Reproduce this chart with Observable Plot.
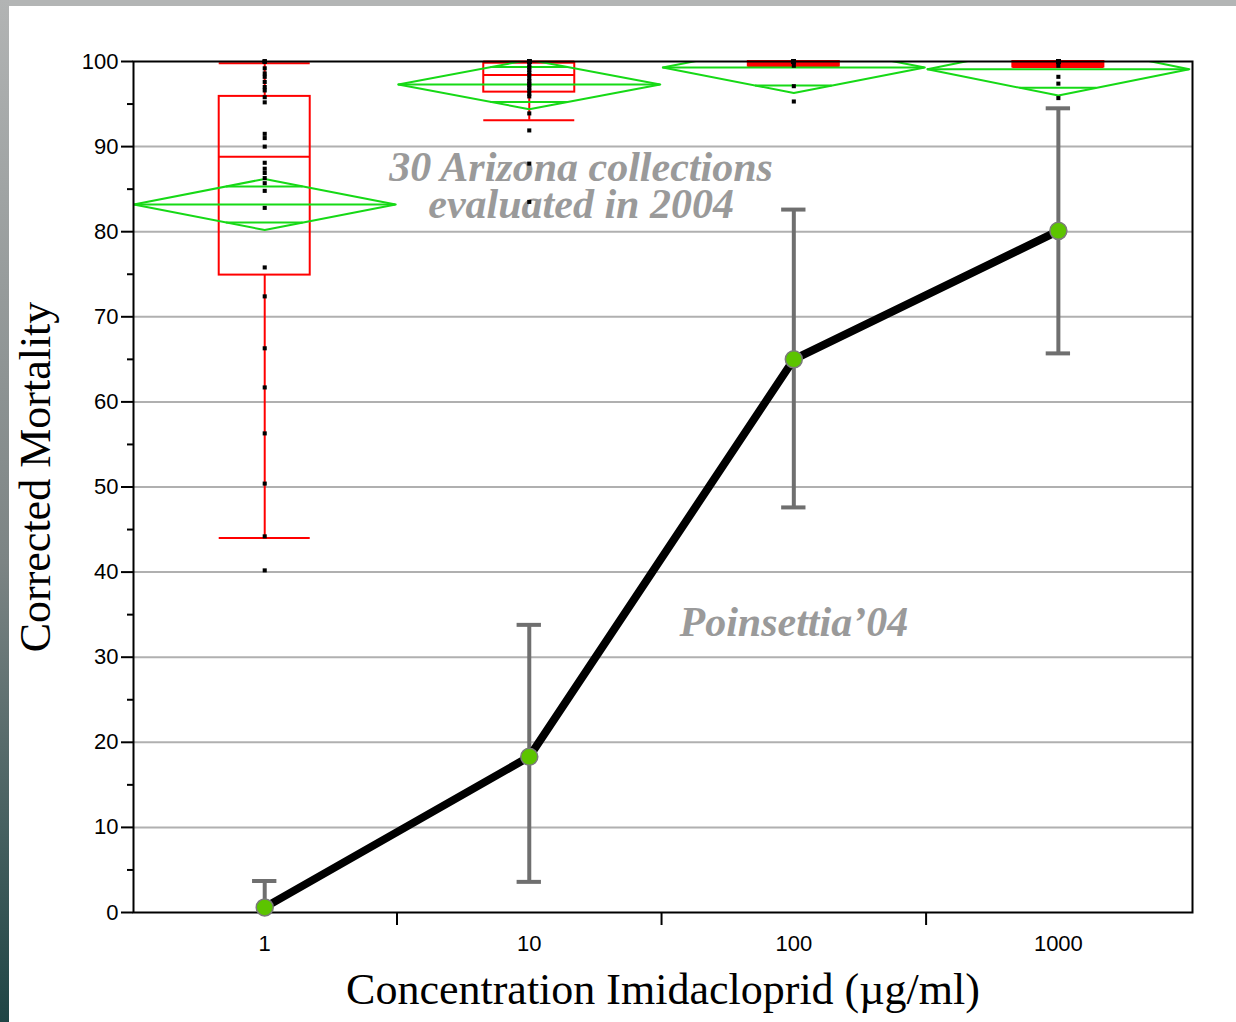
<!DOCTYPE html>
<html><head><meta charset="utf-8">
<script src="https://cdn.jsdelivr.net/npm/d3@7"></script>
<script src="https://cdn.jsdelivr.net/npm/@observablehq/plot@0.6"></script>
<style>
html,body{margin:0;padding:0;background:#fff;width:1236px;height:1022px;overflow:hidden}
#chart{position:absolute;left:0;top:0}
#topbar{position:absolute;left:0;top:0;width:1236px;height:6px;background:#b3b5b5;z-index:2}
#leftbar{position:absolute;left:0;top:0;width:9px;height:1022px;background:linear-gradient(#b2b4b4,#7c8484 55%,#1f4545);z-index:3}
</style></head><body>
<div id="topbar"></div><div id="leftbar"></div>
<div id="chart"></div>
<script>
// ---- data ----
const concentrations = [1, 10, 100, 1000];
const concentrationLabels = ["1", "10", "100", "1000"];

// Poinsettia '04 dose response (mean and error bars)
const meanMortality = [0.6, 18.3, 65.0, 80.1];
const errUpper = [3.7, 33.8, 82.6, 94.5];
const errLower = [-2.5, 3.6, 47.6, 65.7];

// 30 Arizona collections 2004: box plots
const boxQ1 = [74.9, 96.4, 99.45, 99.35];
const boxMedian = [88.8, 98.4, 100, 100];
const boxQ3 = [95.9, 99.8, 100, 100];
const whiskerLow = [44.0, 93.1, 99.45, 99.35];
const whiskerHigh = [99.8, 100, 100, 100];

// means diamonds
const diamondMean = [83.2, 97.3, 99.3, 99.1];
const diamondHalf = [3.0, 2.9, 3.0, 3.1];

// individual collections
const points1 = [100, 100, 100, 100, 99.2, 98.6, 98.2, 97.6, 97.0, 96.6, 95.8, 95.2, 91.5, 91.0, 90.0, 88.1, 87.4, 86.9, 86.3, 85.7, 84.8, 82.8, 75.8, 72.4, 66.3, 61.7, 56.3, 50.4, 44.2, 40.2];
const points2 = [100, 100, 100, 100, 100, 100, 100, 100, 100, 100, 100, 100, 99.6, 99.3, 99.0, 98.7, 98.4, 98.0, 97.7, 97.4, 97.2, 96.9, 96.6, 96.2, 95.9, 93.9, 91.9, 88.0, 83.5, 100];
const points3 = [100, 100, 100, 100, 100, 100, 100, 100, 100, 100, 100, 100, 100, 100, 100, 100, 100, 100, 100, 100, 100, 100, 100, 100, 100, 100, 100, 99.5, 97.1, 95.3];
const points4 = [100, 100, 100, 100, 100, 100, 100, 100, 100, 100, 100, 100, 100, 100, 100, 100, 100, 100, 100, 100, 100, 100, 100, 100, 100, 100, 99.5, 98.2, 97.4, 95.7];

const yTicks = [0, 10, 20, 30, 40, 50, 60, 70, 80, 90, 100];
const yMinorTicks = [5, 15, 25, 35, 45, 55, 65, 75, 85, 95];
const gridValues = [10, 20, 30, 40, 50, 60, 70, 80, 90];
const xBoundaryTicks = [Math.pow(10, 0.5), Math.pow(10, 1.5), Math.pow(10, 2.5)];

// ---- build tables ----
const W = 0.495;   // diamond half width (decades)
const BOX = 0.172; // box half width (decades)
const CAP = 0.046; // error-bar cap half width (decades)
const f = (c, d) => c * Math.pow(10, d);
const k = 1 / Math.SQRT2;

const groups = concentrations.map((c, i) => ({
  c, label: concentrationLabels[i],
  mean: meanMortality[i], hi: errUpper[i], lo: errLower[i],
  q1: boxQ1[i], med: boxMedian[i], q3: boxQ3[i], wlo: whiskerLow[i], whi: whiskerHigh[i],
  dm: diamondMean[i], dh: diamondHalf[i]
}));
const diamondPts = groups.flatMap(g => [
  {g: g.label, x: f(g.c, -W), y: g.dm},
  {g: g.label, x: g.c, y: g.dm + g.dh},
  {g: g.label, x: f(g.c, W), y: g.dm},
  {g: g.label, x: g.c, y: g.dm - g.dh},
  {g: g.label, x: f(g.c, -W), y: g.dm}
]);
const overlap = groups.flatMap(g => [1, -1].map(s => ({c: g.c, y: g.dm + s * g.dh * k})));
const pts = [points1, points2, points3, points4].flatMap((arr, i) => arr.map(v => ({c: concentrations[i], v})));
const labelOf = new Map(concentrations.map((c, i) => [c, concentrationLabels[i]]));

const GREEN = "#16d916";
const RED = "#ff0000";
const serif = "'Liberation Serif', 'Times New Roman', serif";

const chart = Plot.plot({
  width: 1236, height: 1022,
  marginLeft: 133, marginRight: 44, marginTop: 61, marginBottom: 110,
  x: {type: "log", domain: [Math.pow(10, -0.496), Math.pow(10, 3.507)]},
  y: {domain: [0, 100]},
  style: {background: "transparent", color: "#000", fontFamily: "'Liberation Sans', Arial, sans-serif", fontSize: "22px"},
  marks: [
    Plot.gridY(gridValues, {stroke: "#b0b0b0", strokeOpacity: 1, strokeWidth: 2}),
    Plot.axisY(yTicks, {tickSize: 12, tickPadding: 3, strokeWidth: 2, label: null}),
    Plot.axisY(yMinorTicks, {tickSize: 6, strokeWidth: 2, tickFormat: () => "", label: null}),
    Plot.axisX(concentrations, {tickSize: 0, tickPadding: 23, tickFormat: d => labelOf.get(d), label: null}),
    Plot.axisX(xBoundaryTicks, {tickSize: 13, strokeWidth: 2, tickFormat: () => "", label: null}),

    Plot.text(["30 Arizona collections\nevaluated in 2004"], {x: 15.7, y: 85.2, lineHeight: 0.88, fontFamily: serif, fontStyle: "italic", fontWeight: "bold", fontSize: 42, fill: "#9a9a9a"}),
    Plot.text(["Poinsettia\u201904"], {x: 100, y: 34.1, fontFamily: serif, fontStyle: "italic", fontWeight: "bold", fontSize: 42, fill: "#9a9a9a"}),

    // box plots
    Plot.ruleX(groups, {x: "c", y1: "q3", y2: "whi", stroke: RED, strokeWidth: 2}),
    Plot.ruleX(groups, {x: "c", y1: "wlo", y2: "q1", stroke: RED, strokeWidth: 2}),
    Plot.ruleY(groups, {y: "whi", x1: d => f(d.c, -BOX), x2: d => f(d.c, BOX), stroke: RED, strokeWidth: 2}),
    Plot.ruleY(groups, {y: "wlo", x1: d => f(d.c, -BOX), x2: d => f(d.c, BOX), stroke: RED, strokeWidth: 2}),
    Plot.rect(groups, {x1: d => f(d.c, -BOX), x2: d => f(d.c, BOX), y1: "q1", y2: "q3", stroke: RED, strokeWidth: 2, fill: d => (d.q3 - d.q1 < 1 ? RED : "none")}),
    Plot.ruleY(groups, {y: "med", x1: d => f(d.c, -BOX), x2: d => f(d.c, BOX), stroke: RED, strokeWidth: 2}),

    // means diamonds
    Plot.line(diamondPts, {x: "x", y: "y", z: "g", stroke: GREEN, strokeWidth: 2, clip: true}),
    Plot.ruleY(groups, {y: "dm", x1: d => f(d.c, -W), x2: d => f(d.c, W), stroke: GREEN, strokeWidth: 2, clip: true}),
    Plot.ruleY(overlap, {y: "y", x1: d => f(d.c, -W * (1 - k)), x2: d => f(d.c, W * (1 - k)), stroke: GREEN, strokeWidth: 2, clip: true}),

    // individual collections
    Plot.dot(pts, {x: "c", y: "v", symbol: "square", r: 2.3, fill: "#000"}),

    Plot.frame({stroke: "#000", strokeWidth: 2}),

    // Poinsettia dose response
    Plot.ruleX(groups, {x: "c", y1: "lo", y2: "hi", stroke: "#6f6f6f", strokeWidth: 4, clip: true}),
    Plot.ruleY(groups, {y: "hi", x1: d => f(d.c, -CAP), x2: d => f(d.c, CAP), stroke: "#6f6f6f", strokeWidth: 4, clip: true}),
    Plot.ruleY(groups, {y: "lo", x1: d => f(d.c, -CAP), x2: d => f(d.c, CAP), stroke: "#6f6f6f", strokeWidth: 4, clip: true}),
    Plot.line(groups, {x: "c", y: "mean", stroke: "#000", strokeWidth: 8}),
    Plot.dot(groups, {x: "c", y: "mean", r: 8.5, fill: "#5cc400", stroke: "#7a7a7a", strokeWidth: 1.5}),

    // axis titles
    Plot.text(["Corrected Mortality"], {frameAnchor: "left", rotate: -90, dx: -98, dy: -10, textAnchor: "middle", lineAnchor: "middle", fontFamily: serif, fontSize: 44, fill: "#000"}),
    Plot.text(["Concentration Imidacloprid (\u00b5g/ml)"], {frameAnchor: "bottom", dy: 77, textAnchor: "middle", lineAnchor: "middle", fontFamily: serif, fontSize: 44, fill: "#000"})
  ]
});
document.getElementById("chart").appendChild(chart);
</script>
</body></html>
